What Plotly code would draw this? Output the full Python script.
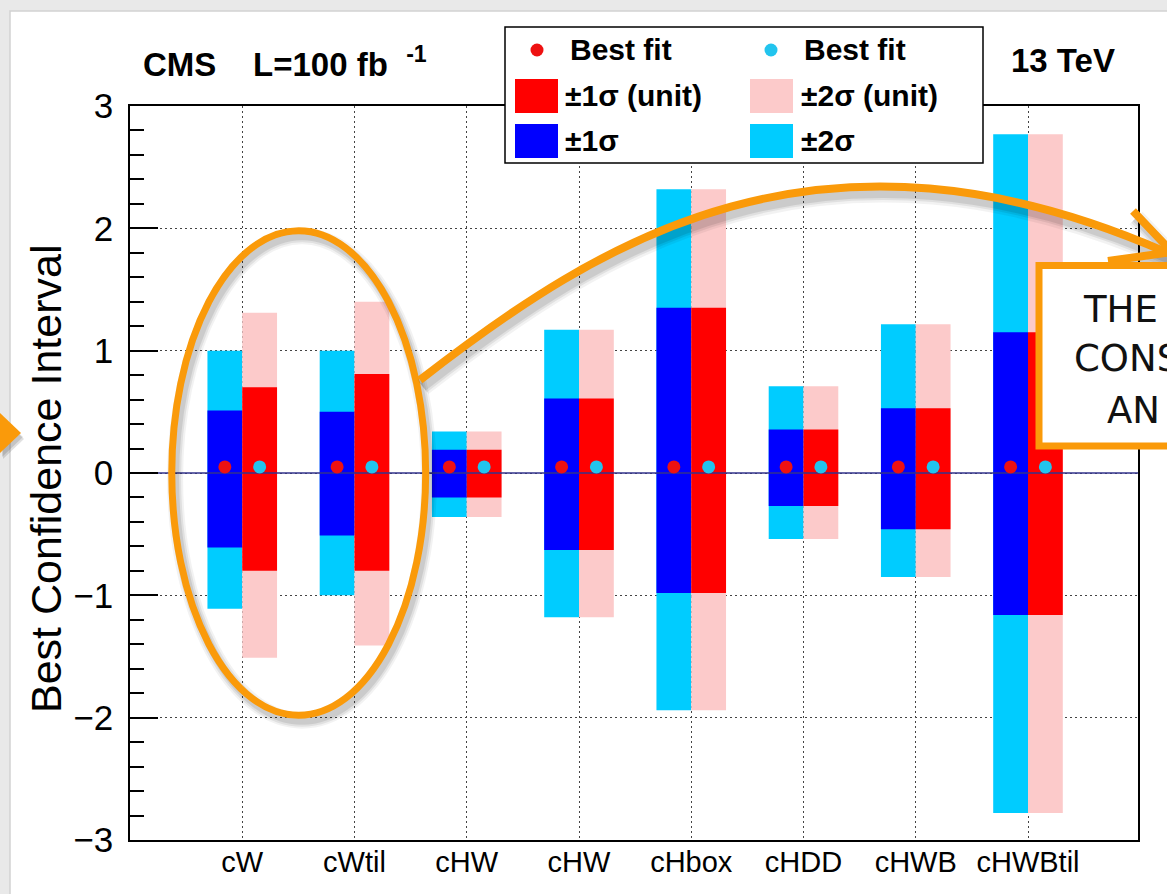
import plotly.graph_objects as go

# ---- data -----------------------------------------------------------------
categories = ["cW", "cWtil", "cHW", "cHW", "cHbox", "cHDD", "cHWB", "cHWBtil"]
positions = [0, 1, 2, 3, 4, 5, 6, 7]

# best-fit values (same for both fits)
best_fit = [0.05, 0.05, 0.05, 0.05, 0.05, 0.05, 0.05, 0.05]
best_fit_unit = [0.05, 0.05, 0.05, 0.05, 0.05, 0.05, 0.05, 0.05]

# +-1 sigma / +-2 sigma intervals
sig1_lo = [-0.61, -0.51, -0.20, -0.63, -0.98, -0.27, -0.46, -1.16]
sig1_hi = [0.51, 0.50, 0.19, 0.61, 1.35, 0.355, 0.53, 1.15]
sig2_lo = [-1.11, -1.00, -0.36, -1.18, -1.94, -0.54, -0.85, -2.78]
sig2_hi = [1.00, 1.00, 0.34, 1.17, 2.32, 0.71, 1.215, 2.77]

# +-1 sigma / +-2 sigma intervals (unit)
sig1u_lo = [-0.80, -0.80, -0.20, -0.63, -0.98, -0.27, -0.46, -1.16]
sig1u_hi = [0.70, 0.81, 0.19, 0.61, 1.35, 0.355, 0.53, 1.15]
sig2u_lo = [-1.51, -1.41, -0.36, -1.18, -1.94, -0.54, -0.85, -2.78]
sig2u_hi = [1.31, 1.40, 0.34, 1.17, 2.32, 0.71, 1.215, 2.77]

y_ticks = [-3, -2, -1, 0, 1, 2, 3]

# ---- styling ----------------------------------------------------------------
W, H = 1167, 894
ML, MR, MT, MB = 130, 29, 106, 54
PW, PH = W - ML - MR, H - MT - MB
BAR_W = 0.31
ORANGE = "#FA9A0A"
C_BLUE, C_CYAN, C_RED, C_PINK = "#0000FF", "#00CCFF", "#FF0000", "#FCCACA"
FONT = "Liberation Sans, Arial, Helvetica, sans-serif"


def px_x(p):
    """page pixel column -> paper x"""
    return (p - ML) / PW


def px_y(p):
    """page pixel row -> paper y"""
    return (H - MB - p) / PH


def P(x, y):
    return f"{px_x(x):.5f},{px_y(y):.5f}"


fig = go.Figure()


def add_band(lo, hi, color, offset):
    fig.add_trace(go.Bar(
        x=positions, y=[h - l for l, h in zip(lo, hi)], base=lo,
        width=BAR_W, offset=offset, marker=dict(color=color, line=dict(width=0)),
        showlegend=False, hoverinfo="skip"))


add_band(sig2_lo, sig2_hi, C_CYAN, -BAR_W)
add_band(sig2u_lo, sig2u_hi, C_PINK, 0)
add_band(sig1_lo, sig1_hi, C_BLUE, -BAR_W)
add_band(sig1u_lo, sig1u_hi, C_RED, 0)

# zero reference line
fig.add_trace(go.Scatter(x=[-1, 7.98], y=[0, 0], mode="lines",
                         line=dict(color="#33338C", width=1.5),
                         showlegend=False, hoverinfo="skip"))

# best-fit markers
fig.add_trace(go.Scatter(x=[p - BAR_W / 2 for p in positions], y=best_fit, mode="markers",
                         marker=dict(color="#EE1111", size=13), showlegend=False))
fig.add_trace(go.Scatter(x=[p + BAR_W / 2 for p in positions], y=best_fit_unit, mode="markers",
                         marker=dict(color="#22C4EE", size=13), showlegend=False))

shapes = []
annotations = []

# slide frame
shapes.append(dict(type="rect", xref="paper", yref="paper", layer="below",
                   x0=px_x(10), x1=px_x(1190), y0=px_y(910), y1=px_y(11),
                   fillcolor="white", line=dict(color="#D2D2D2", width=1.5)))

# legend box
shapes.append(dict(type="rect", xref="paper", yref="paper", layer="above",
                   x0=px_x(505), x1=px_x(983), y0=px_y(163), y1=px_y(27),
                   fillcolor="white", line=dict(color="black", width=1.5)))
for (cx, cy, col) in [(537, 50, "#EE1111"), (771, 50, "#22C4EE")]:
    shapes.append(dict(type="circle", xref="paper", yref="paper", layer="above",
                       x0=px_x(cx - 6.5), x1=px_x(cx + 6.5), y0=px_y(cy + 6.5), y1=px_y(cy - 6.5),
                       fillcolor=col, line=dict(width=0)))
for (x0, y0, col) in [(515, 79, C_RED), (750, 79, C_PINK), (515, 124, C_BLUE), (750, 124, C_CYAN)]:
    shapes.append(dict(type="rect", xref="paper", yref="paper", layer="above",
                       x0=px_x(x0), x1=px_x(x0 + 43), y0=px_y(y0 + 34), y1=px_y(y0),
                       fillcolor=col, line=dict(width=0)))
legend_text = [
    (568, 50, "Best fit"), (802, 50, "Best fit"),
    (563, 95, "±1σ (unit)"), (799, 95, "±2σ (unit)"),
    (563, 140, "±1σ"), (799, 140, "±2σ"),
]
for (x, y, t) in legend_text:
    annotations.append(dict(x=px_x(x), y=px_y(y), xref="paper", yref="paper",
                            text=f"<b>{t}</b>", showarrow=False, xanchor="left", yanchor="middle",
                            font=dict(family=FONT, size=30, color="black")))

# header texts
annotations.append(dict(x=px_x(141), y=px_y(62), xref="paper", yref="paper",
                        text="<b>CMS\u00a0\u00a0\u00a0\u00a0L=100 fb\u00a0\u00a0<sup>-1</sup></b>",
                        showarrow=False, xanchor="left", yanchor="middle",
                        font=dict(family=FONT, size=33, color="black")))
annotations.append(dict(x=px_x(1009), y=px_y(61), xref="paper", yref="paper",
                        text="<b>13 TeV</b>", showarrow=False, xanchor="left", yanchor="middle",
                        font=dict(family=FONT, size=33, color="black")))

# y-axis title
annotations.append(dict(x=px_x(46), y=px_y(479), xref="paper", yref="paper",
                        text="Best Confidence Interval", textangle=-90, showarrow=False,
                        xanchor="center", yanchor="middle",
                        font=dict(family=FONT, size=43, color="black")))

# ---- highlight overlays -----------------------------------------------------
def shadow(path, dx, dy):
    out = []
    for w, a in [(18, 0.05), (13, 0.07), (9, 0.09)]:
        out.append(dict(type="path", xref="paper", yref="paper", layer="above",
                        path=path(dx, dy), line=dict(color=f"rgba(0,0,0,{a})", width=w)))
    return out


# ellipse around the first two coefficients
ell = dict(x0=-0.628, x1=1.634, y0=-1.98, y1=1.98)
for w, a in [(16, 0.05), (12, 0.07), (8, 0.09)]:
    shapes.append(dict(type="circle", xref="x", yref="y", layer="above",
                       x0=ell["x0"] + 0.03, x1=ell["x1"] + 0.03,
                       y0=ell["y0"] - 0.045, y1=ell["y1"] - 0.045,
                       line=dict(color=f"rgba(0,0,0,{a})", width=w)))
shapes.append(dict(type="circle", xref="x", yref="y", layer="above", **ell,
                   line=dict(color=ORANGE, width=7)))


def curve(dx=0, dy=0):
    return (f"M {P(420 + dx, 380 + dy)} C {P(600 + dx, 240 + dy)} "
            f"{P(820 + dx, 100 + dy)} {P(1168 + dx, 253 + dy)}")


def head(dx=0, dy=0):
    return f"M {P(1133 + dx, 211 + dy)} L {P(1172 + dx, 252 + dy)} L {P(1108 + dx, 261 + dy)}"


shapes += shadow(curve, 3, 7)
shapes += shadow(head, 3, 7)
shapes.append(dict(type="path", xref="paper", yref="paper", layer="above",
                   path=curve(), line=dict(color=ORANGE, width=8)))
shapes.append(dict(type="path", xref="paper", yref="paper", layer="above",
                   path=head(), line=dict(color=ORANGE, width=8)))

# small pointer on the left edge
for (dx, dy, a) in [(3, 6, 0.12), (2, 4, 0.12)]:
    shapes.append(dict(type="path", xref="paper", yref="paper", layer="above",
                       path=f"M {P(0 + dx, 413 + dy)} L {P(21 + dx, 433 + dy)} L {P(0 + dx, 453 + dy)} Z",
                       fillcolor=f"rgba(0,0,0,{a})", line=dict(width=0)))
shapes.append(dict(type="path", xref="paper", yref="paper", layer="above",
                   path=f"M {P(0, 413)} L {P(21, 433)} L {P(0, 453)} Z",
                   fillcolor=ORANGE, line=dict(width=0)))

# callout box
shapes.append(dict(type="rect", xref="paper", yref="paper", layer="above",
                   x0=px_x(1039), x1=px_x(1200), y0=px_y(446), y1=px_y(265.5),
                   fillcolor="white", line=dict(color=ORANGE, width=7)))
for (x, y, t) in [(1081, 309, "THE"), (1072, 358, "CONS"), (1105, 410, "AN")]:
    annotations.append(dict(x=px_x(x), y=px_y(y), xref="paper", yref="paper",
                            text=t, showarrow=False, xanchor="left", yanchor="middle",
                            font=dict(family="DejaVu Sans, sans-serif", size=37, color="#111111")))

fig.update_layout(
    width=W, height=H,
    margin=dict(l=ML, r=MR, t=MT, b=MB, pad=0),
    paper_bgcolor="#E9E9E9", plot_bgcolor="white",
    barmode="overlay", showlegend=False,
    shapes=shapes, annotations=annotations,
    xaxis=dict(range=[-1, 7.98], tickmode="array", tickvals=positions, ticktext=categories,
               showgrid=True, gridcolor="#444444", gridwidth=1, griddash="2px,3px",
               zeroline=False, showline=True, linecolor="black", linewidth=1.5, mirror=True,
               ticks="", ticklabelstandoff=-5,
               tickfont=dict(family=FONT, size=29, color="black")),
    yaxis=dict(range=[-3, 3], tickmode="array", tickvals=y_ticks,
               ticktext=["\u22123", "\u22122", "\u22121", "0", "1", "2", "3"],
               showgrid=True, gridcolor="#444444", gridwidth=1, griddash="2px,3px",
               zeroline=False, showline=True, linecolor="black", linewidth=1.5, mirror=True,
               ticks="inside", ticklen=28, tickwidth=1.5, tickcolor="black",
               minor=dict(ticks="inside", ticklen=14, tickwidth=1.5, tickcolor="black",
                          dtick=0.2, tick0=0, showgrid=False),
               ticklabelstandoff=8,
               tickfont=dict(family=FONT, size=35, color="black")),
)

fig.write_html("out.html")
